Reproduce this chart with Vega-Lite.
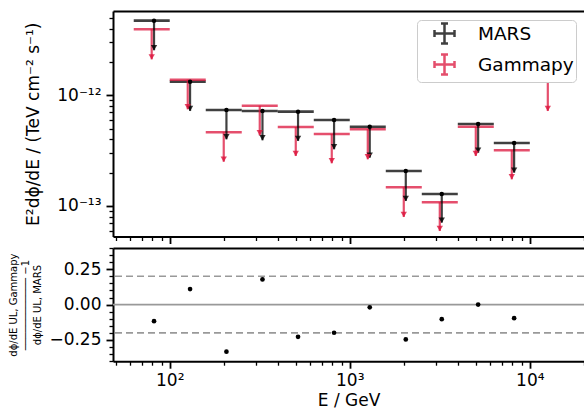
{
  "$schema": "https://vega.github.io/schema/vega-lite/v6.json",
  "autosize": {"type": "pad"},
  "padding": {"left": 8, "top": 8, "right": 0, "bottom": 4},
  "spacing": 2,
  "config": {
    "font": "DejaVu Sans",
    "view": {"stroke": null},
    "axis": {
      "domainColor": "black", "domainWidth": 2, "tickColor": "black",
      "labelColor": "black", "titleColor": "black", "labelFontSize": 17, "titleFontSize": 17,
      "titleFontWeight": "normal", "grid": false, "labelFont": "DejaVu Sans", "titleFont": "DejaVu Sans",
      "labelFlush": false, "labelOverlap": false
    }
  },
  "datasets": {
    "ul": [
      {"s": "MARS", "e": 81.8, "lo": 63.1, "hi": 100, "f": 4.72e-12, "t": 2.55e-12},
      {"s": "MARS", "e": 129.7, "lo": 100, "hi": 158.5, "f": 1.327e-12, "t": 7.22e-13},
      {"s": "MARS", "e": 206.5, "lo": 158.5, "hi": 251.2, "f": 7.37e-13, "t": 4.0e-13},
      {"s": "MARS", "e": 327.4, "lo": 251.2, "hi": 398.1, "f": 7.22e-13, "t": 3.92e-13},
      {"s": "MARS", "e": 516, "lo": 398.1, "hi": 631, "f": 7.11e-13, "t": 3.87e-13},
      {"s": "MARS", "e": 818, "lo": 631, "hi": 1000, "f": 5.98e-13, "t": 3.25e-13},
      {"s": "MARS", "e": 1291, "lo": 1000, "hi": 1585, "f": 5.2e-13, "t": 2.73e-13},
      {"s": "MARS", "e": 2047, "lo": 1585, "hi": 2512, "f": 2.07e-13, "t": 1.11e-13},
      {"s": "MARS", "e": 3243, "lo": 2512, "hi": 3981, "f": 1.284e-13, "t": 7.07e-14},
      {"s": "MARS", "e": 5164, "lo": 3981, "hi": 6310, "f": 5.5e-13, "t": 3.03e-13},
      {"s": "MARS", "e": 8183, "lo": 6310, "hi": 10000, "f": 3.71e-13, "t": 2.0e-13},
      {"s": "Gammapy", "e": 79.4, "lo": 63.1, "hi": 100, "f": 3.95e-12, "t": 2.11e-12},
      {"s": "Gammapy", "e": 125.9, "lo": 100, "hi": 158.5, "f": 1.383e-12, "t": 7.47e-13},
      {"s": "Gammapy", "e": 199.5, "lo": 158.5, "hi": 251.2, "f": 4.63e-13, "t": 2.51e-13},
      {"s": "Gammapy", "e": 316.2, "lo": 251.2, "hi": 398.1, "f": 8.05e-13, "t": 4.35e-13},
      {"s": "Gammapy", "e": 501.2, "lo": 398.1, "hi": 631, "f": 5.17e-13, "t": 2.83e-13},
      {"s": "Gammapy", "e": 794.3, "lo": 631, "hi": 1000, "f": 4.47e-13, "t": 2.43e-13},
      {"s": "Gammapy", "e": 1259, "lo": 1000, "hi": 1585, "f": 4.93e-13, "t": 2.64e-13},
      {"s": "Gammapy", "e": 1995, "lo": 1585, "hi": 2512, "f": 1.475e-13, "t": 7.96e-14},
      {"s": "Gammapy", "e": 3162, "lo": 2512, "hi": 3981, "f": 1.08e-13, "t": 5.94e-14},
      {"s": "Gammapy", "e": 5012, "lo": 3981, "hi": 6310, "f": 5.2e-13, "t": 2.83e-13},
      {"s": "Gammapy", "e": 7943, "lo": 6310, "hi": 10000, "f": 3.19e-13, "t": 1.74e-13},
      {"s": "Gammapy", "e": 12589, "lo": 10000, "hi": 15849, "f": 1.338e-12, "t": 7.22e-13}
    ],
    "res": [
      {"e": 81.8, "r": -0.117},
      {"e": 129.7, "r": 0.110},
      {"e": 206.5, "r": -0.333},
      {"e": 327.4, "r": 0.178},
      {"e": 516, "r": -0.228},
      {"e": 818, "r": -0.199},
      {"e": 1291, "r": -0.019},
      {"e": 2047, "r": -0.246},
      {"e": 3243, "r": -0.103},
      {"e": 5164, "r": 0.0},
      {"e": 8183, "r": -0.096}
    ],
    "lines": [
      {"y": 0, "k": "solid"},
      {"y": 0.2, "k": "dash"},
      {"y": -0.2, "k": "dash"}
    ]
  },
  "vconcat": [
    {
      "width": 471,
      "height": 225.5,
      "data": {"name": "ul"},
      "layer": [
        {
          "mark": {"type": "rule", "strokeWidth": 2.6, "opacity": 0.75},
          "encoding": {
            "x": {"field": "lo", "type": "quantitative",
              "scale": {"type": "log", "domain": [48.4, 20000], "nice": false},
              "axis": {"orient": "bottom", "labels": false, "title": null,
                "values": [50,60,70,80,90,100,200,300,400,500,600,700,800,900,1000,2000,3000,4000,5000,6000,7000,8000,9000,10000,20000],
                "tickSize": {"condition": {"test": "datum.value==100||datum.value==1000||datum.value==10000", "value": 7}, "value": 4},
                "tickWidth": {"condition": {"test": "datum.value==100||datum.value==1000||datum.value==10000", "value": 1.8}, "value": 1.3}}},
            "x2": {"field": "hi"},
            "y": {"field": "f", "type": "quantitative",
              "scale": {"type": "log", "domain": [5.3e-14, 5.77e-12], "nice": false},
              "axis": {"orient": "left", "title": "E²dϕ/dE / (TeV cm⁻² s⁻¹)", "titlePadding": 14, "labelPadding": 5,
                "values": [6e-14,7e-14,8e-14,9e-14,1e-13,2e-13,3e-13,4e-13,5e-13,6e-13,7e-13,8e-13,9e-13,1e-12,2e-12,3e-12,4e-12,5e-12],
                "labelExpr": "datum.value==1e-12?'10⁻¹²':datum.value==1e-13?'10⁻¹³':''",
                "tickSize": {"condition": {"test": "datum.value==1e-12||datum.value==1e-13", "value": 7}, "value": 4},
                "tickWidth": {"condition": {"test": "datum.value==1e-12||datum.value==1e-13", "value": 1.8}, "value": 1.3}}},
            "color": {"field": "s", "type": "nominal",
              "scale": {"domain": ["MARS", "Gammapy"], "range": ["#000000", "#dc143c"]},
              "legend": {"orient": "none", "legendX": 304, "legendY": 9, "title": null,
                "symbolType": "M-1,0H1M0,-1V1M-1,-0.35V0.35M1,-0.35V0.35M-0.35,-1H0.35M-0.35,1H0.35",
                "symbolSize": 400, "symbolStrokeWidth": 2.5, "symbolFillColor": "transparent", "symbolOpacity": 0.75,
                "labelFontSize": 18.5, "labelOffset": 22, "padding": 2, "symbolOffset": 14, "rowPadding": 0,
                "strokeColor": "#cccccc", "cornerRadius": 4, "fillColor": "white", "labelColor": "black"}}
          }
        },
        {
          "mark": {"type": "rule", "strokeWidth": 2.2, "opacity": 0.75},
          "encoding": {
            "x": {"field": "e", "type": "quantitative", "scale": {"type": "log", "domain": [48.4, 20000], "nice": false}, "axis": null},
            "y": {"field": "f", "type": "quantitative"},
            "y2": {"field": "t"},
            "color": {"field": "s", "type": "nominal", "legend": null}
          }
        },
        {
          "mark": {"type": "point", "shape": "triangle-down", "filled": true, "size": 40, "opacity": 0.8, "yOffset": -2.5},
          "encoding": {
            "x": {"field": "e", "type": "quantitative", "axis": null},
            "y": {"field": "t", "type": "quantitative"},
            "color": {"field": "s", "type": "nominal", "legend": null}
          }
        },
        {
          "transform": [{"filter": "datum.s == 'MARS'"}],
          "mark": {"type": "point", "filled": true, "size": 20, "color": "black", "opacity": 1, "shape": "circle"},
          "encoding": {
            "x": {"field": "e", "type": "quantitative",
              "axis": {"orient": "top", "ticks": false, "labels": false, "title": null, "domain": true}},
            "y": {"field": "f", "type": "quantitative"}
          }
        }
      ]
    },
    {
      "width": 471,
      "height": 113.2,
      "layer": [
        {
          "data": {"name": "lines"},
          "transform": [{"filter": "datum.k == 'solid'"}],
          "mark": {"type": "rule", "color": "#999999", "strokeWidth": 1.6},
          "encoding": {
            "y": {"field": "y", "type": "quantitative", "scale": {"domain": [-0.4, 0.4], "nice": false, "zero": false}}
          }
        },
        {
          "data": {"name": "lines"},
          "transform": [{"filter": "datum.k == 'dash'"}],
          "mark": {"type": "rule", "color": "#999999", "strokeWidth": 1.6, "strokeDash": [7, 4]},
          "encoding": {
            "y": {"field": "y", "type": "quantitative"}
          }
        },
        {
          "data": {"name": "res"},
          "mark": {"type": "point", "filled": true, "size": 22, "color": "black", "opacity": 1, "shape": "circle"},
          "encoding": {
            "x": {"field": "e", "type": "quantitative",
              "scale": {"type": "log", "domain": [48.4, 20000], "nice": false},
              "axis": {"orient": "bottom", "title": "E / GeV", "labelPadding": 4, "titlePadding": 4,
                "values": [50,60,70,80,90,100,200,300,400,500,600,700,800,900,1000,2000,3000,4000,5000,6000,7000,8000,9000,10000,20000],
                "labelExpr": "datum.value==100?'10²':datum.value==1000?'10³':datum.value==10000?'10⁴':''",
                "tickSize": {"condition": {"test": "datum.value==100||datum.value==1000||datum.value==10000", "value": 7}, "value": 4},
                "tickWidth": {"condition": {"test": "datum.value==100||datum.value==1000||datum.value==10000", "value": 1.8}, "value": 1.3}}},
            "y": {"field": "r", "type": "quantitative",
              "scale": {"domain": [-0.4, 0.4], "nice": false, "zero": false},
              "axis": {"orient": "left", "labelPadding": 5, "titlePadding": 6,
                "title": ["dϕ/dE UL, Gammapy", "────────────  −1", "dϕ/dE UL, MARS"],
                "titleFontSize": 10,
                "tickCount": 16,
                "labelExpr": "abs(datum.value-0.25)<1e-6?'0.25':abs(datum.value)<1e-6?'0.00':abs(datum.value+0.25)<1e-6?'−0.25':''",
                "labelFontSize": {"condition": {"test": "abs(abs(datum.value)-0.25)<1e-6||abs(datum.value)<1e-6", "value": 17}, "value": 1},
                "tickSize": {"condition": {"test": "abs(abs(datum.value)-0.25)<1e-6||abs(datum.value)<1e-6", "value": 7}, "value": 4},
                "tickWidth": {"condition": {"test": "abs(abs(datum.value)-0.25)<1e-6||abs(datum.value)<1e-6", "value": 1.8}, "value": 1.3}}}
          }
        },
        {
          "data": {"name": "res"},
          "mark": {"type": "point", "opacity": 0},
          "encoding": {
            "x": {"field": "e", "type": "quantitative",
              "axis": {"orient": "top", "ticks": false, "labels": false, "title": null, "domain": true}},
            "y": {"field": "r", "type": "quantitative"}
          }
        }
      ]
    }
  ]
}
